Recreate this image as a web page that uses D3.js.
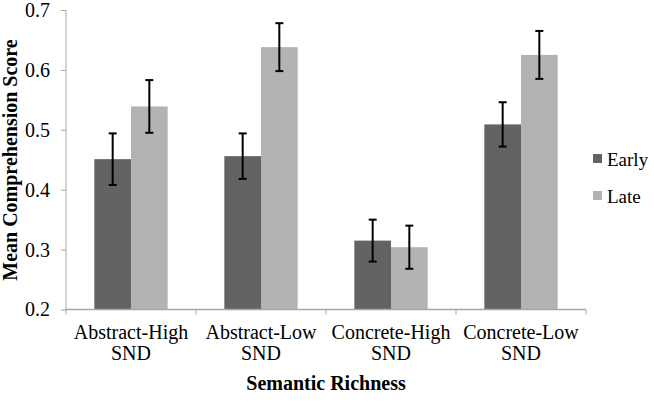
<!DOCTYPE html>
<html>
<head>
<meta charset="utf-8">
<script src="https://cdn.jsdelivr.net/npm/d3@7"></script>
<style>
  body { margin: 0; background: #fff; }
  text { font-family: "Liberation Serif", "Times New Roman", serif; fill: #000; }
</style>
</head>
<body>
<div id="my_dataviz"></div>
<script>
let categories = ["Abstract-High SND", "Abstract-Low SND", "Concrete-High SND", "Concrete-Low SND"];
let seriesNames = ["Early", "Late"];
let earlyMeans = [0.451, 0.456, 0.315, 0.509];
let earlyErr = [0.043, 0.038, 0.035, 0.037];
let lateMeans = [0.539, 0.638, 0.304, 0.625];
let lateErr = [0.044, 0.040, 0.036, 0.040];
let yTicks = [0.2, 0.3, 0.4, 0.5, 0.6, 0.7];

let width = 654, height = 402;
let colors = {"Early": "#636363", "Late": "#b3b3b3"};
let axisColor = "#a6a6a6";

let data = [];
for (let i = 0; i < categories.length; i++) {
    data.push({cat: categories[i], series: "Early", value: earlyMeans[i], err: earlyErr[i]});
    data.push({cat: categories[i], series: "Late", value: lateMeans[i], err: lateErr[i]});
}

var svg = d3.select("#my_dataviz")
    .append("svg")
    .attr("width", width)
    .attr("height", height);

// scales
var x = d3.scaleBand()
    .domain(categories)
    .range([66, 586])
    .paddingInner(0.436)
    .paddingOuter(0.218);

var x1 = d3.scaleBand()
    .domain(seriesNames)
    .range([0, x.bandwidth()]);

var y = d3.scaleLinear()
    .domain([0.2, 0.7])
    .range([309.5, 10]);

// bars
svg.append("g")
    .selectAll("rect")
    .data(data)
    .enter()
    .append("rect")
    .attr("x", function (d) { return x(d.cat) + x1(d.series); })
    .attr("y", function (d) { return y(d.value); })
    .attr("width", x1.bandwidth())
    .attr("height", function (d) { return y(0.2) - y(d.value); })
    .style("fill", function (d) { return colors[d.series]; });

// Y axis
var yAxis = svg.append("g")
    .attr("transform", "translate(66,0)")
    .call(d3.axisLeft(y).tickValues(yTicks).tickFormat(d3.format(".1f")).tickSize(5).tickPadding(11));
yAxis.selectAll("line").attr("stroke", axisColor);
yAxis.select(".domain").attr("stroke", axisColor).attr("d", "M0," + y(0.7) + "V" + y(0.2));
yAxis.selectAll("text")
    .attr("fill", "#000")
    .style("font-size", "20px")
    .style("font-family", "Liberation Serif")
    .attr("dy", "0.32em");

// X axis line
var step = x.step(), gap = step - x.bandwidth();
var bounds = categories.map(function (c) { return x(c) - gap / 2; });
bounds.push(x(categories[categories.length - 1]) + x.bandwidth() + gap / 2);
svg.append("line")
    .attr("x1", bounds[0]).attr("x2", bounds[bounds.length - 1])
    .attr("y1", y(0.2)).attr("y2", y(0.2))
    .attr("stroke", axisColor).attr("stroke-width", 1.5);
svg.append("g")
    .selectAll("line")
    .data(bounds)
    .enter()
    .append("line")
    .attr("x1", function (d) { return d; }).attr("x2", function (d) { return d; })
    .attr("y1", y(0.2)).attr("y2", y(0.2) + 5)
    .attr("stroke", axisColor);

// category labels
var catLabels = svg.append("g")
    .selectAll("text")
    .data(categories)
    .enter()
    .append("text")
    .attr("text-anchor", "middle")
    .attr("x", function (d) { return x(d) + x.bandwidth() / 2; })
    .attr("y", 339)
    .style("font-size", "20px");
catLabels.append("tspan")
    .attr("x", function (d) { return x(d) + x.bandwidth() / 2; })
    .text(function (d) { return d.split(" ")[0]; });
catLabels.append("tspan")
    .attr("x", function (d) { return x(d) + x.bandwidth() / 2; })
    .attr("dy", 21)
    .text(function (d) { return d.split(" ")[1]; });

// error bars
var eb = svg.append("g")
    .selectAll("g")
    .data(data)
    .enter()
    .append("g")
    .attr("stroke", "#000")
    .attr("stroke-width", 2);
function cx(d) { return x(d.cat) + x1(d.series) + x1.bandwidth() / 2; }
eb.append("line")
    .attr("x1", cx).attr("x2", cx)
    .attr("y1", function (d) { return y(d.value + d.err); })
    .attr("y2", function (d) { return y(d.value - d.err); });
eb.append("line")
    .attr("x1", function (d) { return cx(d) - 4; }).attr("x2", function (d) { return cx(d) + 4; })
    .attr("y1", function (d) { return y(d.value + d.err); })
    .attr("y2", function (d) { return y(d.value + d.err); });
eb.append("line")
    .attr("x1", function (d) { return cx(d) - 4; }).attr("x2", function (d) { return cx(d) + 4; })
    .attr("y1", function (d) { return y(d.value - d.err); })
    .attr("y2", function (d) { return y(d.value - d.err); });

// axis titles
svg.append("text")
    .attr("text-anchor", "middle")
    .attr("x", 326)
    .attr("y", 390)
    .text("Semantic Richness")
    .style("font-size", "20px")
    .style("font-weight", "bold");
svg.append("text")
    .attr("text-anchor", "middle")
    .attr("transform", "translate(17,160) rotate(-90)")
    .text("Mean Comprehension Score")
    .style("font-size", "20px")
    .style("font-weight", "bold");

// legend
var legend = svg.append("g")
    .selectAll("g")
    .data(seriesNames)
    .enter()
    .append("g")
    .attr("transform", function (d, i) { return "translate(593," + (154 + i * 37) + ")"; });
legend.append("rect")
    .attr("width", 9).attr("height", 9)
    .style("fill", function (d) { return colors[d]; });
legend.append("text")
    .attr("x", 14)
    .attr("y", 12)
    .text(function (d) { return d; })
    .style("font-size", "19px");
</script>
</body>
</html>
